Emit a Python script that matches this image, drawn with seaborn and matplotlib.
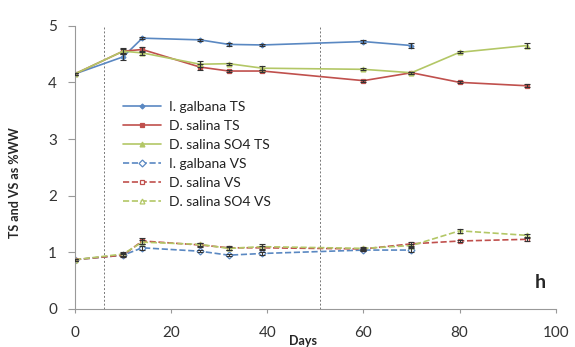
import matplotlib
matplotlib.use("Agg")
import matplotlib.pyplot as plt
import seaborn as sns
import pandas as pd
import numpy as np

days = [0, 10, 14, 26, 32, 39, 60, 70, 80, 94]
ig_days = [0, 10, 14, 26, 32, 39, 60, 70]

ig_ts = [4.15, 4.45, 4.78, 4.75, 4.67, 4.66, 4.72, 4.65]
ds_ts = [4.15, 4.55, 4.58, 4.27, 4.20, 4.20, 4.03, 4.17, 4.00, 3.94]
so4_ts = [4.15, 4.55, 4.52, 4.32, 4.33, 4.25, 4.23, 4.17, 4.53, 4.65]
ig_vs = [0.87, 0.95, 1.08, 1.02, 0.95, 0.98, 1.04, 1.04]
ds_vs = [0.87, 0.95, 1.20, 1.13, 1.08, 1.08, 1.06, 1.15, 1.20, 1.23]
so4_vs = [0.87, 0.97, 1.18, 1.14, 1.07, 1.10, 1.07, 1.12, 1.38, 1.30]

ig_ts_err = [0.02, 0.05, 0.02, 0.02, 0.03, 0.02, 0.02, 0.04]
ds_ts_err = [0.02, 0.04, 0.04, 0.05, 0.02, 0.02, 0.02, 0.02, 0.02, 0.03]
so4_ts_err = [0.02, 0.05, 0.03, 0.05, 0.02, 0.04, 0.02, 0.02, 0.02, 0.04]
ig_vs_err = [0.02, 0.02, 0.03, 0.02, 0.02, 0.02, 0.02, 0.03]
ds_vs_err = [0.02, 0.03, 0.05, 0.03, 0.03, 0.03, 0.02, 0.04, 0.02, 0.03]
so4_vs_err = [0.02, 0.03, 0.03, 0.03, 0.03, 0.04, 0.03, 0.03, 0.04, 0.03]

phase_lines = [6, 51]

blue = "#5a88c2"
red = "#c0504d"
green = "#b3c766"

series = [
    ("I. galbana TS", ig_days, ig_ts, ig_ts_err, blue, "-", "D", True, 2.5),
    ("D. salina TS", days, ds_ts, ds_ts_err, red, "-", "s", True, 3.5),
    ("D. salina SO4 TS", days, so4_ts, so4_ts_err, green, "-", "^", True, 3.5),
    ("I. galbana VS", ig_days, ig_vs, ig_vs_err, blue, "--", "D", False, 3.5),
    ("D. salina VS", days, ds_vs, ds_vs_err, red, "--", "s", False, 3.5),
    ("D. salina SO4 VS", days, so4_vs, so4_vs_err, green, "--", "^", False, 3.5),
]

sns.set_style("white")
plt.rcParams["font.family"] = ["Lato", "DejaVu Sans"]

W, H = 575, 347
fig = plt.figure(figsize=(W / 100, H / 100), dpi=100)
x0, x1, ytop, ybot = 75, 555.7, 25.7, 309
ax = fig.add_axes([x0 / W, 1 - ybot / H, (x1 - x0) / W, (ybot - ytop) / H])

for name, x, y, e, c, ls, m, filled, ms in series:
    df = pd.DataFrame({"Days": x, "val": y})
    sns.lineplot(data=df, x="Days", y="val", ax=ax, color=c, linestyle=ls,
                 linewidth=1.2, marker=m, markersize=ms,
                 markerfacecolor=c if filled else "white",
                 markeredgecolor=c, markeredgewidth=0.9, label=name,
                 dashes=False if ls == "-" else (4, 3))
    ax.errorbar(x, y, yerr=e, fmt="none", ecolor="#333333", elinewidth=0.8,
                capsize=2.5, capthick=0.8, zorder=5)

for d in phase_lines:
    ax.axvline(d, color="#777777", linestyle=(0, (2, 2)), linewidth=0.7, zorder=0)

ax.set_xlim(0, 100)
ax.set_ylim(0, 5)
ax.set_xticks([0, 20, 40, 60, 80, 100])
ax.set_yticks([0, 1, 2, 3, 4, 5])
ax.tick_params(axis="both", labelsize=11, colors="#999999", labelcolor="#333333",
               direction="out", width=0.8, bottom=True, left=True)
ax.tick_params(axis="y", length=5, pad=8)
ax.tick_params(axis="x", length=3, pad=9)
for s in ["top", "right"]:
    ax.spines[s].set_visible(False)
for s in ["left", "bottom"]:
    ax.spines[s].set_color("#999999")
    ax.spines[s].set_linewidth(0.8)

ax.set_xlabel("Days", fontsize=9, fontweight="bold")
ax.xaxis.set_label_coords((303 - x0) / (x1 - x0), -(341 - ybot) / (ybot - ytop))
ax.xaxis.label.set_va("center")
ax.set_ylabel("TS and VS as %WW", fontsize=9, fontweight="bold")
ax.yaxis.set_label_coords(-(x0 - 15) / (x1 - x0), (ybot - 183) / (ybot - ytop))
ax.yaxis.label.set_va("center")

leg = ax.legend(loc="upper left", bbox_to_anchor=(123 / W, 1 - 101 / H),
                bbox_transform=fig.transFigure, frameon=False, borderpad=0,
                fontsize=10, handlelength=2.7, handletextpad=0.6,
                labelspacing=0.5, borderaxespad=0)
for t in leg.get_texts():
    t.set_color("#222222")

fig.text(540 / W, 1 - 283 / H, "h", fontsize=14, fontweight="bold",
         ha="center", va="center")

fig.savefig("out.png", dpi=100)
